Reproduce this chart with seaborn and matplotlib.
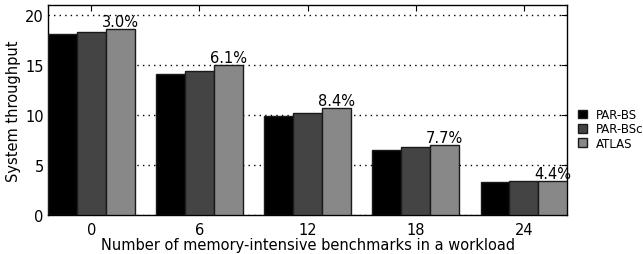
import pandas as pd
import matplotlib
matplotlib.use("Agg")
import matplotlib.pyplot as plt
import seaborn as sns

# Datos
grupos = ["0", "6", "12", "18", "24"]
par_bs = [18.15, 14.15, 9.9, 6.53, 3.33]
par_bsc = [18.3, 14.43, 10.17, 6.77, 3.4]
atlas = [18.65, 15.03, 10.72, 7.02, 3.45]
mejoras = ["3.0%", "6.1%", "8.4%", "7.7%", "4.4%"]

df = pd.DataFrame({
    "grupo": grupos * 3,
    "valor": par_bs + par_bsc + atlas,
    "scheduler": ["PAR-BS"] * 5 + ["PAR-BSc"] * 5 + ["ATLAS"] * 5,
})

sns.set_style("white")
plt.rcParams["font.family"] = ["DejaVu Sans"]
plt.rcParams["text.color"] = "black"
plt.rcParams["axes.labelcolor"] = "black"
plt.rcParams["xtick.color"] = "black"
plt.rcParams["ytick.color"] = "black"

fig, ax = plt.subplots(figsize=(6.43, 2.55), dpi=100)
fig.subplots_adjust(left=0.0747, right=0.882, top=0.976, bottom=0.153)

colores = ["#000000", "#444444", "#888888"]
sns.barplot(data=df, x="grupo", y="valor", hue="scheduler", palette=colores,
            order=grupos, width=0.8, edgecolor="#1a1a1a", linewidth=1.0,
            saturation=1, ax=ax, zorder=3)

# Etiquetas de porcentaje sobre la barra de ATLAS
for i, txt in enumerate(mejoras):
    ax.text(i + 0.8 / 3, atlas[i], txt, ha="center", va="bottom", fontsize=10.5)

ax.set_xlim(-0.4, 4.4)
ax.set_ylim(0, 21)
ax.set_yticks([0, 5, 10, 15, 20])
ax.yaxis.grid(True, linestyle=(0, (1, 3)), color="black", linewidth=1.0, zorder=0)
ax.set_axisbelow(True)
for s in ax.spines.values():
    s.set_color("black")
    s.set_linewidth(1.0)
ax.tick_params(direction="in", top=True, right=True, length=4, labelsize=10.5,
               color="black")
ax.tick_params(axis="y", pad=3)
ax.tick_params(axis="x", pad=5)
ax.set_xlabel("Number of memory-intensive benchmarks in a workload", fontsize=10.5, labelpad=0)
ax.set_ylabel("System throughput", fontsize=10.5, labelpad=3)

ax.legend(loc="center left", bbox_to_anchor=(1.005, 0.41), frameon=False,
          fontsize=8.5, handlelength=0.75, handleheight=0.75, handletextpad=0.8,
          labelspacing=0.1, borderaxespad=0.3)

fig.savefig("out.png", dpi=100)
